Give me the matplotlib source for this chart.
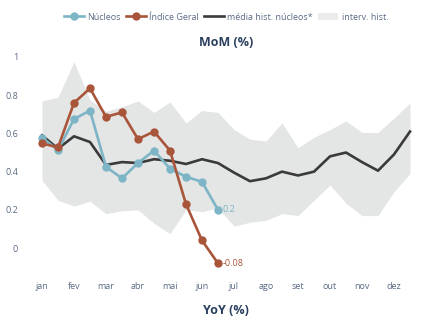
import numpy as np
import matplotlib.pyplot as plt
from matplotlib.patches import Patch
from matplotlib.lines import Line2D

plt.rcParams['font.family'] = ['Open Sans', 'DejaVu Sans']

# meses (cada ponto = meio mês)
meses = ["jan", "fev", "mar", "abr", "mai", "jun", "jul", "ago", "set", "out", "nov", "dez"]

nucleos = [0.578, 0.513, 0.675, 0.72, 0.425, 0.365, 0.445, 0.51, 0.416, 0.373, 0.347, 0.2]
indice_geral = [0.548, 0.527, 0.76, 0.836, 0.687, 0.71, 0.57, 0.61, 0.51, 0.23, 0.04, -0.08]

media_hist = [0.59, 0.52, 0.585, 0.555, 0.435, 0.45, 0.445, 0.465, 0.457, 0.44, 0.465, 0.445,
              0.395, 0.35, 0.365, 0.40, 0.38, 0.40, 0.48, 0.50, 0.45, 0.405, 0.49, 0.61]
interv_sup = [0.77, 0.79, 0.975, 0.775, 0.715, 0.74, 0.77, 0.71, 0.765, 0.655, 0.72, 0.71,
              0.62, 0.57, 0.56, 0.655, 0.525, 0.58, 0.62, 0.665, 0.605, 0.605, 0.68, 0.76]
interv_inf = [0.355, 0.25, 0.22, 0.245, 0.18, 0.195, 0.20, 0.13, 0.075, 0.20, 0.19, 0.21,
              0.115, 0.135, 0.145, 0.18, 0.17, 0.25, 0.33, 0.235, 0.17, 0.17, 0.295, 0.39]

c_nuc = "#7db5c6"
c_ind = "#a9553a"
c_med = "#3a3a3a"
c_band = "#e4e5e5"
c_txt = "#5a6b85"
c_tit = "#2a3f5f"

fig = plt.figure(figsize=(4.45, 3.23), dpi=100)
ax = fig.add_axes([29.2 / 445, 1 - 271 / 323, 390.4 / 445, 214 / 323])

x_all = np.arange(len(media_hist))
x_ano = np.arange(len(nucleos))

ax.fill_between(x_all, interv_inf, interv_sup, color=c_band, lw=0, zorder=1)
ax.plot(x_all, media_hist, color=c_med, lw=1.9, zorder=2)
ax.plot(x_ano, nucleos, color=c_nuc, lw=1.9, marker="o", ms=5, zorder=3)
ax.plot(x_ano, indice_geral, color=c_ind, lw=1.9, marker="o", ms=5, zorder=4)

ax.annotate("0.2", (x_ano[-1], nucleos[-1]), xytext=(3, 0), textcoords="offset points",
            va="center", ha="left", color=c_nuc, fontsize=6.5)
ax.annotate("-0.08", (x_ano[-1], indice_geral[-1]), xytext=(3, 0), textcoords="offset points",
            va="center", ha="left", color=c_ind, fontsize=6.5)

ax.set_xlim(-0.8, 23.6)
ax.set_ylim(-0.12, 1.0)
ax.set_xticks(np.arange(0, 24, 2))
ax.set_xticklabels(meses)
ax.set_yticks([0, 0.2, 0.4, 0.6, 0.8, 1])
ax.set_yticklabels(["0", "0.2", "0.4", "0.6", "0.8", "1"])
ax.tick_params(length=0, labelsize=6.5, colors=c_txt)
ax.tick_params(axis="x", pad=8)
ax.tick_params(axis="y", pad=8)
for s in ax.spines.values():
    s.set_visible(False)

fig.text(226 / 445, 1 - 42 / 323, "MoM (%)", ha="center", va="center",
         fontsize=9, fontweight="bold", color=c_tit)
fig.text(226 / 445, 1 - 310 / 323, "YoY (%)", ha="center", va="center",
         fontsize=9, fontweight="bold", color=c_tit)

handles = [
    Line2D([], [], color=c_nuc, lw=1.9, marker="o", ms=5),
    Line2D([], [], color=c_ind, lw=1.9, marker="o", ms=5),
    Line2D([], [], color=c_med, lw=1.9),
    Patch(color="#ebebeb", lw=0),
]
labels = ["Núcleos", "Índice Geral", "média hist. núcleos*", "interv. hist."]
fig.legend(handles, labels, loc="center", bbox_to_anchor=(226 / 445, 1 - 17 / 323),
           ncol=4, frameon=False, fontsize=6.5, labelcolor=c_txt,
           handlelength=2.2, handletextpad=0.4, columnspacing=0.55)

fig.savefig("out.png", dpi=100)
